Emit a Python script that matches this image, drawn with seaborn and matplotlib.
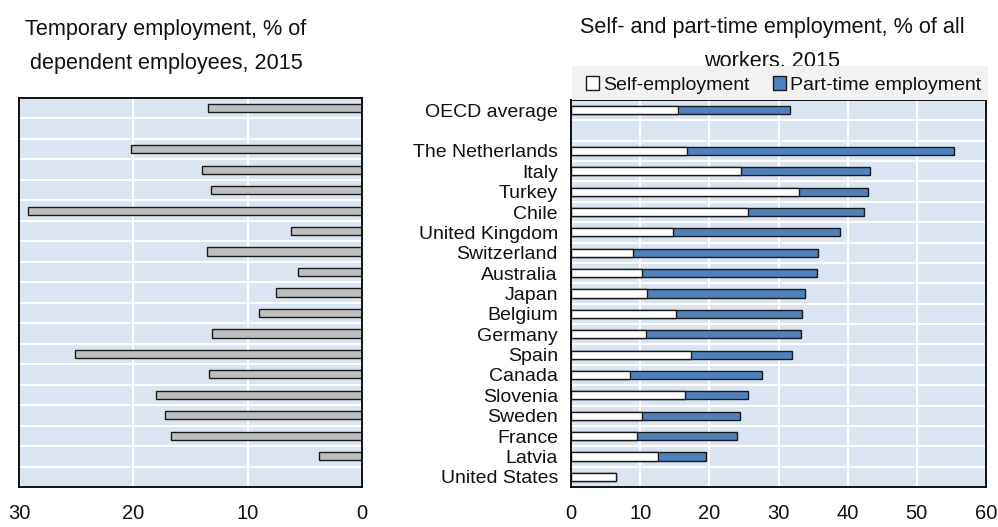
import numpy as np
import pandas as pd
import matplotlib
matplotlib.use("Agg")
import matplotlib.pyplot as plt
from matplotlib.patches import Patch, Rectangle
import seaborn as sns

# ---- data -------------------------------------------------------------
countries = ["OECD average", " ", "The Netherlands", "Italy", "Turkey", "Chile",
             "United Kingdom", "Switzerland", "Australia", "Japan", "Belgium",
             "Germany", "Spain", "Canada", "Slovenia", "Sweden", "France",
             "Latvia", "United States"]
temporary = [13.5, np.nan, 20.2, 14.0, 13.2, 29.2, 6.2, 13.6, 5.6, 7.5, 9.0,
             13.1, 25.1, 13.4, 18.0, 17.2, 16.7, 3.8, np.nan]
self_employment = [15.5, np.nan, 16.7, 24.6, 33.0, 25.6, 14.8, 8.9, 10.2, 11.0,
                   15.2, 10.8, 17.4, 8.6, 16.5, 10.3, 9.6, 12.6, 6.5]
part_time = [16.1, np.nan, 38.7, 18.7, 9.9, 16.8, 24.1, 26.8, 25.3, 22.8,
             18.2, 22.4, 14.5, 19.0, 9.1, 14.1, 14.4, 6.9, np.nan]
left_ticks = [30, 20, 10, 0]
right_ticks = [0, 10, 20, 30, 40, 50, 60]

df = pd.DataFrame({"country": countries, "temporary": temporary,
                   "self": self_employment, "part": part_time})
# stacked bar: total length drawn first, self-employment segment on top
df["total"] = df["self"] + df["part"].fillna(0)

# ---- style ------------------------------------------------------------
BG = "#dbe5f1"
GREY = "#bfbfbf"
BLUE = "#4f81bd"
EDGE = "#1a1a1a"

sns.set_style("white", {"axes.facecolor": BG, "axes.edgecolor": "black"})
plt.rcParams["font.family"] = ["Liberation Sans", "DejaVu Sans"]
plt.rcParams["text.color"] = "#111111"

W, H = 998, 527
fig = plt.figure(figsize=(W / 100, H / 100), dpi=100)


def fx(px):
    return px / W


def fy(py):
    return 1 - py / H


ax_l = fig.add_axes([fx(19), fy(487), fx(362 - 19), (487 - 98) / H])
ax_r = fig.add_axes([fx(571), fy(487), fx(986 - 571), (487 - 100) / H])

n = len(countries)
bar_kw = dict(orient="h", order=countries, width=0.4, saturation=1,
              edgecolor=EDGE, linewidth=1.0, errorbar=None)

# left: temporary employment (reversed axis)
sns.barplot(data=df, x="temporary", y="country", color=GREY, ax=ax_l, **bar_kw)
# right: self-employment + part-time employment
sns.barplot(data=df, x="total", y="country", color=BLUE, ax=ax_r, **bar_kw)
sns.barplot(data=df, x="self", y="country", color="white", ax=ax_r, **bar_kw)

for ax in (ax_l, ax_r):
    ax.set_xlabel("")
    ax.set_ylabel("")
    ax.set_ylim(n - 0.5, -0.5)
    ax.set_yticks(np.arange(n + 1) - 0.5, minor=True)
    ax.set_axisbelow(True)
    ax.grid(which="minor", axis="y", color="white", linewidth=1.4)
    ax.grid(which="major", axis="x", color="white", linewidth=1.4)
    ax.grid(which="major", axis="y", visible=False)
    for s in ax.spines.values():
        s.set_visible(True)
        s.set_linewidth(1.3)
        s.set_color("black")
    ax.tick_params(axis="x", direction="in", length=6, width=1.0,
                   color="#222222", pad=12, labelsize=14.5,
                   labelcolor="#111111")

ax_l.set_xlim(30, 0)
ax_l.set_xticks(left_ticks)
ax_l.set_xticklabels([str(t) for t in left_ticks])
ax_l.set_yticks(range(n))
ax_l.set_yticklabels([])
ax_l.tick_params(axis="y", which="both", length=0)

ax_r.set_xlim(0, 60)
ax_r.set_xticks(right_ticks)
ax_r.set_xticklabels([str(t) for t in right_ticks])
ax_r.set_yticks(range(n))
ax_r.set_yticklabels(countries, fontsize=14, color="#111111")
ax_r.tick_params(axis="y", which="major", length=0, pad=9.4)
ax_r.tick_params(axis="y", which="minor", direction="in", length=6,
                 width=1.0, color="#222222")

# ---- titles -----------------------------------------------------------
tkw = dict(ha="center", va="baseline", fontsize=15.6, color="#111111", zorder=1)
fig.text(fx(166), fy(34.5), "Temporary employment, % of", **tkw)
fig.text(fx(166), fy(68.5), "dependent employees, 2015", **tkw)
fig.text(fx(772), fy(33), "Self- and part-time employment, % of all", **tkw)
fig.text(fx(772), fy(67), "workers. 2015", **tkw)

# legend band above the right panel
band = Rectangle((fx(572), fy(99.5)), fx(988 - 572), (99.5 - 66) / H,
                 transform=fig.transFigure, facecolor="#f2f2f2",
                 edgecolor="none", zorder=2)
fig.patches.append(band)

handles = [Patch(facecolor="white", edgecolor=EDGE, linewidth=1.0,
                 label="Self-employment"),
           Patch(facecolor=BLUE, edgecolor=EDGE, linewidth=1.0,
                 label="Part-time employment")]
leg = fig.legend(handles=handles, loc="center", ncol=2,
                 bbox_to_anchor=(fx(783.5), fy(85)), frameon=False,
                 fontsize=14, handlelength=0.67, handleheight=0.67,
                 handletextpad=0.23, columnspacing=1.2, borderpad=0,
                 borderaxespad=0)
leg.set_zorder(3)

fig.savefig("out.png", dpi=100)
